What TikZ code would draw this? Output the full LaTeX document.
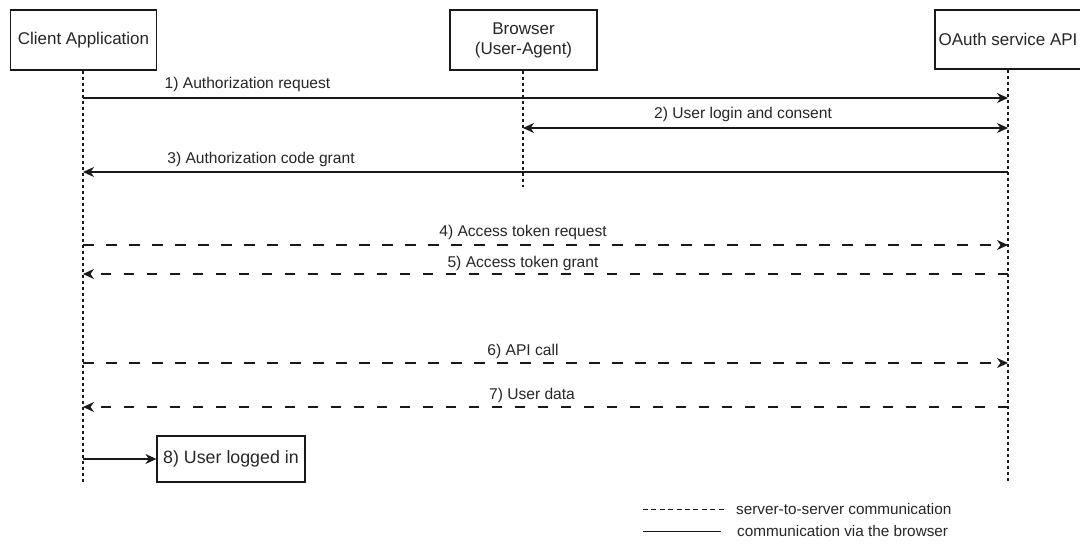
\documentclass[tikz,border=0pt]{standalone}
\usepackage{fontspec}
\setmainfont{Liberation Sans}
\usetikzlibrary{arrows.meta}

\tikzset{
  ink/.style={draw=black!90, line width=1.2pt},
  tip/.style={Stealth[length=11pt,width=10pt,inset=3.5pt]},
  actor/.style={ink, fill=white, inner sep=0pt, align=center,
    font=\fontsize{17}{20}\selectfont, text=black!85},
  lifeline/.style={ink, dash pattern=on 3pt off 3pt},
  msg/.style={ink, -{Stealth[length=11pt,width=10pt,inset=3.5pt]}},
  bimsg/.style={ink, {Stealth[length=11pt,width=10pt,inset=3.5pt]}-{Stealth[length=11pt,width=10pt,inset=3.5pt]}},
  srv/.style={dash pattern=on 10.5pt off 12.5pt},
  msglabel/.style={font=\fontsize{15.6}{18}\selectfont, text=black!85, inner sep=0pt},
  legendtext/.style={font=\fontsize{15.3}{18}\selectfont, text=black!85, inner sep=0pt, anchor=west},
}

\begin{document}
\begin{tikzpicture}[x=1pt, y=-1pt]
  \useasboundingbox (0,0) rectangle (1080,552);
  \clip (0,0) rectangle (1080,552);

  % participants
  \node[actor, minimum width=146pt, minimum height=60pt] (client) at (83.5,40) {Client Application};
  \node[actor, minimum width=147pt, minimum height=60pt] (browser) at (523.5,40) {Browser\\(User-Agent)};
  \node[actor, minimum width=146pt, minimum height=59pt] (oauth) at (1008,39.5) {OAuth service API};

  % lifeline ends
  \coordinate (clientEnd) at (83,482);
  \coordinate (browserEnd) at (523,187);
  \coordinate (oauthEnd) at (1008,482);
  \draw[lifeline] (client.south -| clientEnd) -- (clientEnd);
  \draw[lifeline] (browser.south -| browserEnd) -- (browserEnd);
  \draw[lifeline] (oauth.south -| oauthEnd) -- (oauthEnd);

  % message anchors on the lifelines
  \foreach \n/\y in {1/98, 2/128, 3/172, 4/245, 5/274, 6/363, 7/407, 8/459} {
    \coordinate (c\n) at (83,\y);
    \coordinate (o\n) at (1008,\y);
  }
  \coordinate (b2) at (523,128);

  % messages
  \draw[msg] (c1) -- (o1);
  \node[msglabel] (l1) at (247.5,84) {1) Authorization request};

  \draw[bimsg] (b2) -- (o2);
  \node[msglabel] (l2) at (743,114) {2) User login and consent};

  \draw[msg] (o3) -- (c3);
  \node[msglabel] (l3) at (261,159) {3) Authorization code grant};

  \draw[msg, srv] (c4) -- (o4);
  \node[msglabel] (l4) at (523,232) {4) Access token request};

  \draw[msg, srv] (o5) -- (c5);
  \node[msglabel] (l5) at (523,263) {5) Access token grant};

  \draw[msg, srv] (c6) -- (o6);
  \node[msglabel] (l6) at (523,351) {6) API call};

  \draw[msg, srv] (o7) -- (c7);
  \node[msglabel] (l7) at (532,395) {7) User data};

  % final state
  \node[actor, minimum width=148pt, minimum height=46pt, font=\fontsize{17.8}{20}\selectfont] (done) at (231,459) {8) User logged in};
  \draw[msg] (c8) -- (done.west);

  % legend
  \coordinate (lgA1) at (643,509);
  \coordinate (lgA2) at (726,509);
  \coordinate (lgB1) at (643,531);
  \coordinate (lgB2) at (721,531);
  \draw[draw=black!90, line width=1pt, dash pattern=on 5pt off 3.4pt] (lgA1) -- (lgA2);
  \node[legendtext] (lgtA) at (736,509) {server-to-server communication};
  \draw[draw=black!90, line width=1pt] (lgB1) -- (lgB2);
  \node[legendtext] (lgtB) at (737,531) {communication via the browser};
\end{tikzpicture}
\end{document}
